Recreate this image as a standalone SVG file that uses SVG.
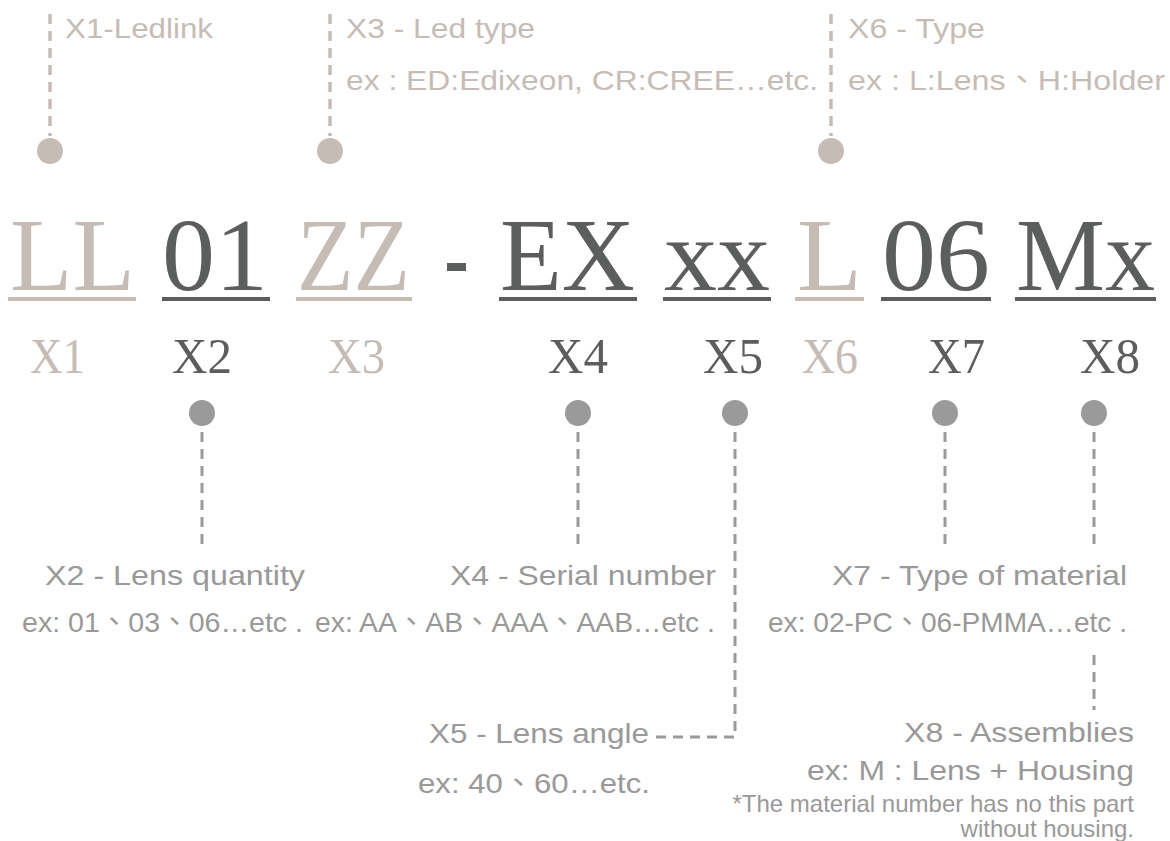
<svg xmlns="http://www.w3.org/2000/svg" width="1170" height="841" viewBox="0 0 1170 841">
<style>
.bg{fill:#ffffff}
.tl{font-family:"Liberation Sans","Noto Sans CJK TC",sans-serif;font-size:28px;fill:#c6bcb6}
.bl{font-family:"Liberation Sans","Noto Sans CJK TC",sans-serif;font-size:28px;fill:#999999}
.code{font-family:"Liberation Serif",serif;font-size:104px}
.lab{font-family:"Liberation Serif",serif;font-size:50px}
.beige{fill:#c6bcb6}
.dark{fill:#5b5e5d}
.dotT{fill:#c6bcb6}
.dotB{fill:#9a9a9a}
.dashT{stroke:#c6bcb6;stroke-width:3.5;stroke-dasharray:10 7;fill:none}
.dashB{stroke:#9a9a9a;stroke-width:3;stroke-dasharray:10 7;fill:none}
</style>
<rect class="bg" x="0" y="0" width="1170" height="841"/>
<g id="connectors">
<line class="dashT" x1="50" y1="14" x2="50" y2="136"/>
<line class="dashT" x1="330" y1="14" x2="330" y2="136"/>
<line class="dashT" x1="831" y1="14" x2="831" y2="136"/>
<line class="dashB" x1="202" y1="432" x2="202" y2="550"/>
<line class="dashB" x1="578" y1="432" x2="578" y2="550"/>
<polyline class="dashB" points="735,432 735,737 652,737"/>
<line class="dashB" x1="945" y1="432" x2="945" y2="550"/>
<line class="dashB" x1="1094" y1="432" x2="1094" y2="550"/>
<line class="dashB" x1="1094" y1="655" x2="1094" y2="710"/>
</g>
<g id="code">
<text class="code beige" x="10" y="290" textLength="125" lengthAdjust="spacingAndGlyphs">LL</text>
<rect class="beige" x="8" y="297" width="128" height="4"/>
<text class="code dark" x="162" y="290" textLength="106" lengthAdjust="spacingAndGlyphs">01</text>
<rect class="dark" x="162" y="297" width="108" height="4"/>
<text class="code beige" x="297" y="290" textLength="113" lengthAdjust="spacingAndGlyphs">ZZ</text>
<rect class="beige" x="296" y="297" width="116" height="4"/>
<rect class="dark" x="447" y="263" width="19" height="8"/>
<text class="code dark" x="500" y="290" textLength="135" lengthAdjust="spacingAndGlyphs">EX</text>
<rect class="dark" x="499" y="297" width="138" height="4"/>
<text class="code dark" x="664" y="290" textLength="106" lengthAdjust="spacingAndGlyphs">xx</text>
<rect class="dark" x="663" y="297" width="108" height="4"/>
<text class="code beige" x="797" y="290" textLength="65" lengthAdjust="spacingAndGlyphs">L</text>
<rect class="beige" x="795" y="297" width="69" height="4"/>
<text class="code dark" x="882" y="290" textLength="108" lengthAdjust="spacingAndGlyphs">06</text>
<rect class="dark" x="881" y="297" width="110" height="4"/>
<text class="code dark" x="1016" y="290" textLength="139" lengthAdjust="spacingAndGlyphs">Mx</text>
<rect class="dark" x="1015" y="297" width="141" height="4"/>
</g>
<g id="x1">
<circle class="dotT" cx="50" cy="151" r="13"/>
<text class="tl" x="65" y="38" textLength="148" lengthAdjust="spacingAndGlyphs">X1-Ledlink</text>
<text class="lab beige" x="30" y="373" textLength="55" lengthAdjust="spacingAndGlyphs">X1</text>
</g>
<g id="x2">
<text class="lab dark" x="172" y="373" textLength="60" lengthAdjust="spacingAndGlyphs">X2</text>
<circle class="dotB" cx="202" cy="413" r="13"/>
<text class="bl" x="45" y="585" textLength="260" lengthAdjust="spacingAndGlyphs">X2 - Lens quantity</text>
<text class="bl" x="22" y="632" textLength="281" lengthAdjust="spacingAndGlyphs">ex: 01、03、06…etc .</text>
</g>
<g id="x3">
<circle class="dotT" cx="330" cy="151" r="13"/>
<text class="tl" x="346" y="38" textLength="189" lengthAdjust="spacingAndGlyphs">X3 - Led type</text>
<text class="tl" x="346" y="90" textLength="472" lengthAdjust="spacingAndGlyphs">ex : ED:Edixeon, CR:CREE…etc.</text>
<text class="lab beige" x="328" y="373" textLength="57" lengthAdjust="spacingAndGlyphs">X3</text>
</g>
<g id="x4">
<text class="lab dark" x="548" y="373" textLength="60" lengthAdjust="spacingAndGlyphs">X4</text>
<circle class="dotB" cx="578" cy="413" r="13"/>
<text class="bl" x="450" y="585" textLength="266" lengthAdjust="spacingAndGlyphs">X4 - Serial number</text>
<text class="bl" x="315" y="632" textLength="400" lengthAdjust="spacingAndGlyphs">ex: AA、AB、AAA、AAB…etc .</text>
</g>
<g id="x5">
<text class="lab dark" x="703" y="373" textLength="60" lengthAdjust="spacingAndGlyphs">X5</text>
<circle class="dotB" cx="735" cy="413" r="13"/>
<text class="bl" x="429" y="743" textLength="220" lengthAdjust="spacingAndGlyphs">X5 - Lens angle</text>
<text class="bl" x="418" y="793" textLength="232" lengthAdjust="spacingAndGlyphs">ex: 40、60…etc.</text>
</g>
<g id="x6">
<circle class="dotT" cx="831" cy="151" r="13"/>
<text class="tl" x="848" y="38" textLength="137" lengthAdjust="spacingAndGlyphs">X6 - Type</text>
<text class="tl" x="848" y="90" textLength="317" lengthAdjust="spacingAndGlyphs">ex : L:Lens、H:Holder</text>
<text class="lab beige" x="802" y="373" textLength="56" lengthAdjust="spacingAndGlyphs">X6</text>
</g>
<g id="x7">
<text class="lab dark" x="928" y="373" textLength="57" lengthAdjust="spacingAndGlyphs">X7</text>
<circle class="dotB" cx="945" cy="413" r="13"/>
<text class="bl" x="832" y="585" textLength="295" lengthAdjust="spacingAndGlyphs">X7 - Type of material</text>
<text class="bl" x="768" y="632" textLength="359" lengthAdjust="spacingAndGlyphs">ex: 02-PC、06-PMMA…etc .</text>
</g>
<g id="x8">
<text class="lab dark" x="1080" y="373" textLength="60" lengthAdjust="spacingAndGlyphs">X8</text>
<circle class="dotB" cx="1094" cy="413" r="13"/>
<text class="bl" x="904" y="742" textLength="230" lengthAdjust="spacingAndGlyphs">X8 - Assemblies</text>
<text class="bl" x="807" y="780" textLength="327" lengthAdjust="spacingAndGlyphs">ex: M : Lens + Housing</text>
<text class="bl" x="1134" y="812" text-anchor="end" style="font-size:24px">*The material number has no this part</text>
<text class="bl" x="1134" y="837" text-anchor="end" style="font-size:24px">without housing.</text>
</g>
</svg>
